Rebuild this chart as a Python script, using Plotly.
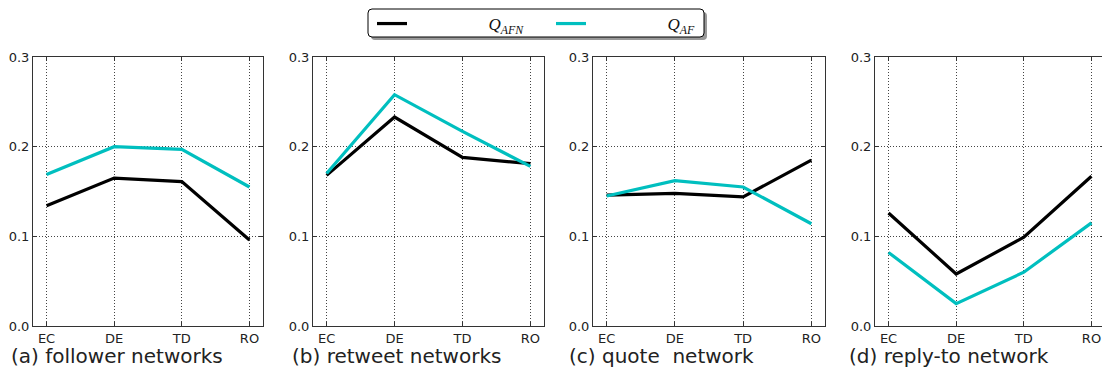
import plotly.graph_objects as go

categories = ["EC", "DE", "TD", "RO"]
panel_titles = ["(a) follower networks", "(b) retweet networks", "(c) quote  network", "(d) reply-to network"]

q_afn = [
    [0.134, 0.165, 0.161, 0.096],
    [0.168, 0.233, 0.188, 0.181],
    [0.146, 0.148, 0.144, 0.185],
    [0.126, 0.058, 0.099, 0.167],
]
q_af = [
    [0.169, 0.200, 0.197, 0.155],
    [0.170, 0.258, 0.217, 0.178],
    [0.145, 0.162, 0.155, 0.114],
    [0.082, 0.025, 0.060, 0.115],
]
y_ticks = [0.0, 0.1, 0.2, 0.3]
y_tick_labels = ["0.0", "0.1", "0.2", "0.3"]

# the page body adds an 8px offset; work in figure pixels = page pixels - 8
OFF = 8
W, H = 1110 - OFF, 371 - OFF
box_x = [(33, 263), (313, 544), (593, 825), (875, 1105)]
title_x = [10, 291, 568, 848]
y_top, y_bot = 57, 326

def fx(px):
    return (px - OFF) / W

def fy(py):
    return 1 - (py - OFF) / H

BLACK = "#000000"
TEAL = "#00BFBF"

fig = go.Figure()
for i in range(4):
    ax = "" if i == 0 else str(i + 1)
    fig.add_trace(go.Scatter(
        x=categories, y=q_afn[i], mode="lines",
        line=dict(color=BLACK, width=3.2),
        name="&nbsp;" * 18 + "<i>Q</i><sub><i>AFN</i></sub>", showlegend=(i == 0),
        xaxis="x" + ax, yaxis="y" + ax,
    ))
for i in range(4):
    ax = "" if i == 0 else str(i + 1)
    fig.add_trace(go.Scatter(
        x=categories, y=q_af[i], mode="lines",
        line=dict(color=TEAL, width=3.2),
        name="&nbsp;" * 18 + "<i>Q</i><sub><i>AF</i></sub>", showlegend=(i == 0),
        xaxis="x" + ax, yaxis="y" + ax,
    ))

layout = dict(
    width=W, height=H,
    margin=dict(l=0, r=0, t=0, b=0, autoexpand=False),
    paper_bgcolor="white", plot_bgcolor="white",
    font=dict(family="DejaVu Sans", size=13, color="#222222"),
    showlegend=True,
    legend=dict(
        orientation="h", x=fx(372), y=fy(6), xanchor="left", yanchor="top",
        bgcolor="rgba(0,0,0,0)", borderwidth=0,
        font=dict(family="Liberation Serif", size=17, color="#111111"),
        entrywidth=134, itemwidth=30,
    ),
)
annotations = []
shapes = []
for i in range(4):
    ax = "" if i == 0 else str(i + 1)
    x0, x1 = box_x[i]
    common = dict(
        showgrid=True, gridcolor="#444444", griddash="1px,2px", gridwidth=1,
        showline=True, linecolor="#333333", linewidth=1, mirror="ticks",
        ticks="inside", ticklen=4, tickcolor="#333333",
        tickfont=dict(family="DejaVu Sans", size=13, color="#222222"),
        zeroline=False, fixedrange=True, automargin=False,
    )
    layout["xaxis" + ax] = dict(
        domain=[fx(x0), fx(x1)], anchor="y" + ax,
        type="category", categoryorder="array", categoryarray=categories,
        range=[-0.2, 3.2], **common,
    )
    layout["yaxis" + ax] = dict(
        domain=[fy(y_bot), fy(y_top)], anchor="x" + ax,
        range=[0, 0.3], tickvals=y_ticks, ticktext=y_tick_labels, **common,
    )
    annotations.append(dict(
        text=panel_titles[i], xref="paper", yref="paper",
        x=fx(title_x[i] - 1), y=fy(356), xanchor="left", yanchor="middle",
        showarrow=False, font=dict(family="DejaVu Sans", size=20, color="#222222"),
    ))

# legend frame with shadow (top edge limited by the page offset)
lx0, lx1, ly0, ly1 = 368, 704, 9, 37
def rpath(x0, y0, x1, y1, r):
    X0, X1 = fx(x0), fx(x1)
    Y0, Y1 = fy(y1), fy(y0)
    rx, ry = r / W, r / H
    return (f"M {X0+rx},{Y0} L {X1-rx},{Y0} Q {X1},{Y0} {X1},{Y0+ry} "
            f"L {X1},{Y1-ry} Q {X1},{Y1} {X1-rx},{Y1} L {X0+rx},{Y1} "
            f"Q {X0},{Y1} {X0},{Y1-ry} L {X0},{Y0+ry} Q {X0},{Y0} {X0+rx},{Y0} Z")
shapes.append(dict(type="path", xref="paper", yref="paper", layer="below",
                   path=rpath(lx0 + 3, ly0 + 3, lx1 + 3, ly1 + 3, 4),
                   fillcolor="#999999", line=dict(width=0)))
shapes.append(dict(type="path", xref="paper", yref="paper", layer="below",
                   path=rpath(lx0, ly0, lx1, ly1, 4),
                   fillcolor="white", line=dict(color="#000000", width=1)))
layout["annotations"] = annotations
layout["shapes"] = shapes
fig.update_layout(**layout)
fig.write_html("out.html")
